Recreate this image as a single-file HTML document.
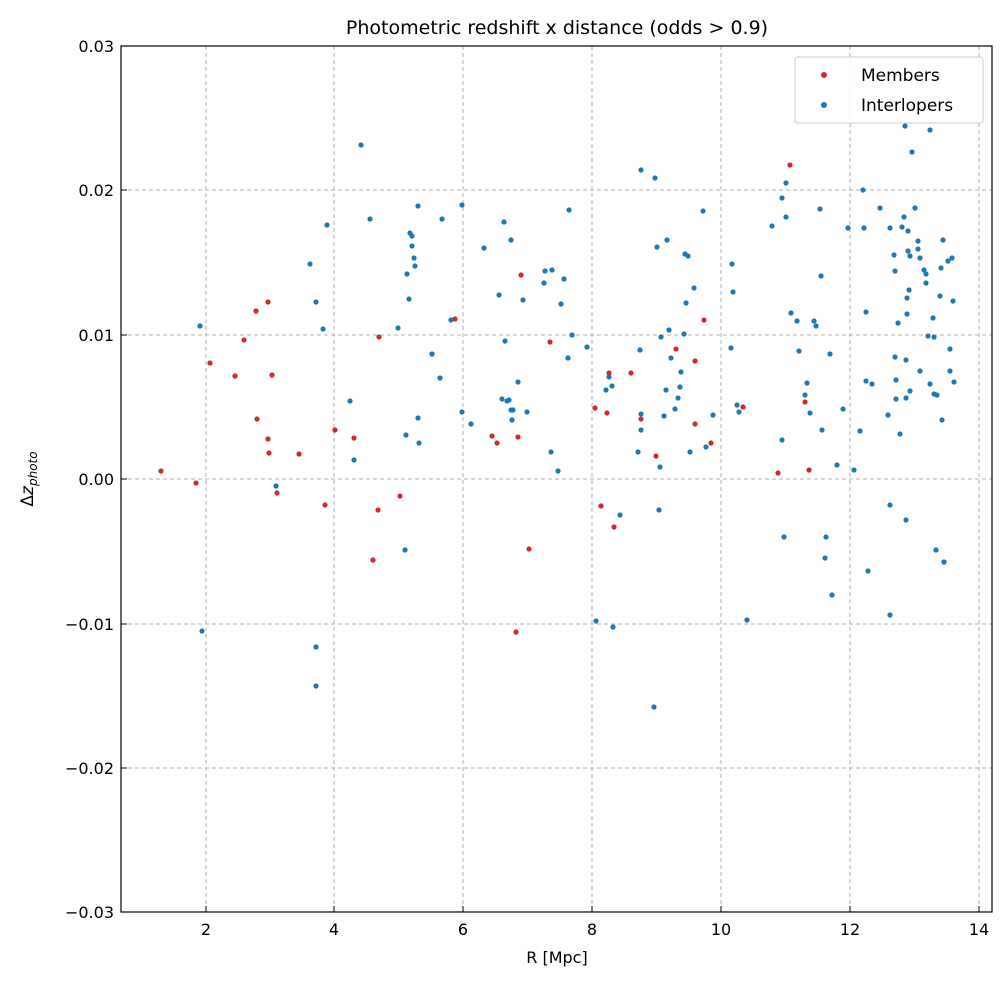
<!DOCTYPE html>
<html><head><meta charset="utf-8"><style>
html,body{margin:0;padding:0;background:#fff;}
svg text{font-family:"DejaVu Sans","Liberation Sans",sans-serif;fill:#000;}
</style></head><body>
<svg id="s" width="1008" height="983" viewBox="0 0 1008 983" xmlns="http://www.w3.org/2000/svg">
<rect width="1008" height="983" fill="#fff"/>
<g stroke="#b0b0b0" stroke-width="1" stroke-dasharray="4,3">
<line x1="206" y1="46" x2="206" y2="912"/><line x1="334" y1="46" x2="334" y2="912"/>
<line x1="463" y1="46" x2="463" y2="912"/><line x1="592" y1="46" x2="592" y2="912"/>
<line x1="721" y1="46" x2="721" y2="912"/><line x1="850" y1="46" x2="850" y2="912"/>
<line x1="979" y1="46" x2="979" y2="912"/>
<line x1="121" y1="190" x2="992" y2="190"/><line x1="121" y1="335" x2="992" y2="335"/>
<line x1="121" y1="479" x2="992" y2="479"/><line x1="121" y1="624" x2="992" y2="624"/>
<line x1="121" y1="768" x2="992" y2="768"/>
</g>
<g id="pts"></g>
<rect x="121" y="46" width="871" height="866" fill="none" stroke="#000" stroke-width="1.2"/>
<g stroke="#000" stroke-width="1">
<line x1="206" y1="912" x2="206" y2="906"/><line x1="334" y1="912" x2="334" y2="906"/>
<line x1="463" y1="912" x2="463" y2="906"/><line x1="592" y1="912" x2="592" y2="906"/>
<line x1="721" y1="912" x2="721" y2="906"/><line x1="850" y1="912" x2="850" y2="906"/>
<line x1="979" y1="912" x2="979" y2="906"/>
<line x1="121" y1="46" x2="127" y2="46"/><line x1="121" y1="190" x2="127" y2="190"/>
<line x1="121" y1="335" x2="127" y2="335"/><line x1="121" y1="479" x2="127" y2="479"/>
<line x1="121" y1="624" x2="127" y2="624"/><line x1="121" y1="768" x2="127" y2="768"/>
<line x1="121" y1="912" x2="127" y2="912"/>
</g>
<g font-size="16" text-anchor="middle">
<text x="206" y="935">2</text><text x="334" y="935">4</text><text x="463" y="935">6</text>
<text x="592" y="935">8</text><text x="721" y="935">10</text><text x="850" y="935">12</text><text x="979" y="935">14</text>
<text x="557" y="963">R [Mpc]</text>
<text x="557" y="34" font-size="19">Photometric redshift x distance (odds &gt; 0.9)</text>
</g>
<g font-size="16" text-anchor="end">
<text x="114" y="52">0.03</text><text x="114" y="196">0.02</text><text x="114" y="341">0.01</text>
<text x="114" y="485">0.00</text><text x="114" y="630">−0.01</text><text x="114" y="774">−0.02</text>
<text x="114" y="918">−0.03</text>
</g>
<text transform="translate(33,479) rotate(-90)" font-size="17" text-anchor="middle">Δ<tspan font-style="italic">z</tspan><tspan font-style="italic" font-size="12" dy="4">photo</tspan></text>
<rect x="795" y="57" width="188" height="66" rx="3" fill="#fff" fill-opacity="0.85" stroke="#ccc"/>
<circle cx="824" cy="75" r="3" fill="#d62728"/><circle cx="824" cy="105" r="3" fill="#1f77b4"/>
<text x="861" y="81" font-size="17">Members</text><text x="861" y="111" font-size="17">Interlopers</text>
</svg>
<script>
var red=[161,471,196,483,210,363,235,376,244,340,256,311,268,302,257,419,268,439,269,453,272,375,277,493,299,454,335,430,325,505,354,438,373,560,378,510,379,337,400,496,455,319,492,436,497,443,521,275,518,437,529,549,516,632,550,342,595,408,601,506,607,413,609,373,614,527,631,373,641,419,656,456,676,349,695,361,695,424,704,320,711,443,743,407,778,473,790,165,805,402,809,470];
var blue=[200,326,202,631,276,486,310,264,316,302,316,647,316,686,323,329,327,225,350,401,354,460,361,145,370,219,398,328,406,435,405,550,407,274,409,299,410,233,412,236,412,246,414,258,415,266,418,206,418,418,419,443,432,354,440,378,442,219,451,320,462,412,462,205,471,424,484,248,499,295,504,222,505,341,502,399,507,401,509,400,511,240,511,410,512,420,513,410,518,382,523,300,527,412,544,283,545,271,552,270,551,452,558,471,561,304,564,279,569,210,568,358,572,335,587,347,596,621,606,390,609,377,613,627,612,386,620,515,638,452,640,350,641,414,641,430,641,170,655,178,654,707,657,247,659,510,660,467,661,337,664,416,666,390,667,240,669,330,671,358,675,409,678,398,680,387,681,372,684,334,685,254,688,256,686,303,694,288,690,452,713,415,703,211,706,447,731,348,732,264,733,292,737,405,739,412,747,620,772,226,782,198,782,440,784,537,786,183,786,217,791,313,797,321,799,351,805,395,807,383,810,413,814,321,816,326,820,209,821,276,822,430,825,558,826,537,830,354,832,595,837,465,843,409,848,228,854,470,860,431,863,190,864,228,866,312,866,381,868,571,872,384,880,208,888,415,890,228,890,505,890,615,894,255,895,271,895,357,896,380,896,399,898,323,900,434,902,227,904,217,905,126,906,398,906,360,907,314,907,298,908,251,908,231,906,520,909,290,910,256,910,391,912,152,915,208,918,241,918,249,920,258,920,371,924,270,926,283,926,274,928,336,930,130,930,384,933,318,934,337,934,394,936,550,937,395,940,296,941,268,942,420,943,240,944,562,948,261,950,371,950,349,953,301,954,382,952,258];
var g=document.getElementById('pts'),h='';
function add(a,c){for(var i=0;i<a.length;i+=2)h+='<circle cx="'+a[i]+'" cy="'+a[i+1]+'" r="2.6" fill="'+c+'"/>';}
add(red,'#d62728');add(blue,'#1f77b4');
g.innerHTML=h;
</script>
</body></html>
